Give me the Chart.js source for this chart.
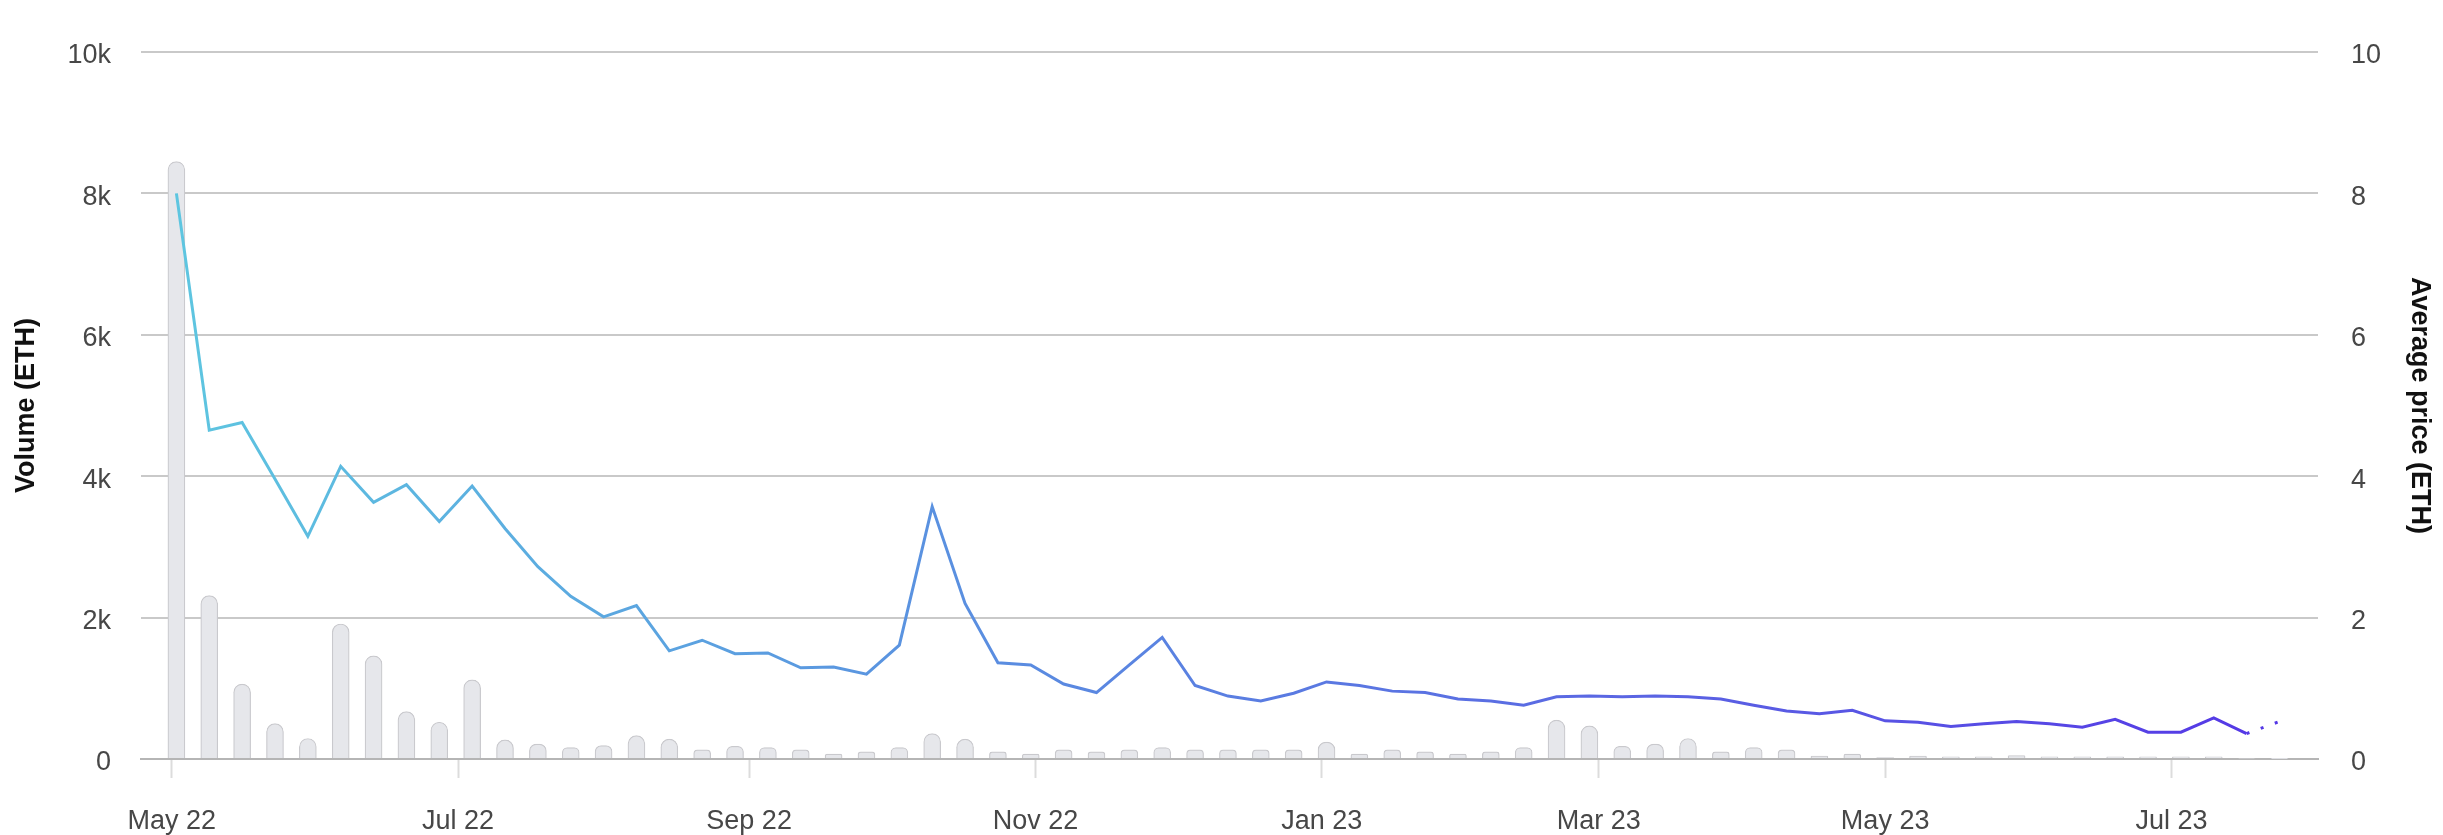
<!DOCTYPE html>
<html>
<head>
<meta charset="utf-8">
<script src="https://cdn.jsdelivr.net/npm/chart.js@4"></script>
<style>
  html, body { margin: 0; padding: 0; background: #fff; }
  #wrap { width: 2443px; height: 835px; position: relative; }
</style>
</head>
<body>
<div id="wrap"><canvas id="volumeChart"></canvas></div>
<script>
// weekly data, first week starts Mon 2 May 2022
const firstWeek = Date.UTC(2022, 4, 2);
const DAY = 24 * 3600 * 1000;

// Volume (ETH) per week
const volume = [
  8450, 2310, 1060, 500, 290, 1910, 1460, 670, 520, 1120,
  270, 210, 160, 190, 330, 280, 130, 180, 160, 130,
  70, 100, 160, 360, 280, 100, 70, 130, 100, 130,
  160, 130, 130, 130, 130, 240, 70, 130, 100, 70,
  100, 160, 550, 470, 180, 210, 290, 100, 160, 130,
  40, 70, 20, 40, 30, 30, 50, 30, 30, 30,
  30, 30, 30, 10, 5
];

// Average price (ETH) per week
const avgPrice = [
  8.0, 4.65, 4.76, 3.96, 3.15, 4.14, 3.63, 3.88, 3.36, 3.86,
  3.26, 2.72, 2.30, 2.01, 2.17, 1.53, 1.68, 1.49, 1.50, 1.29,
  1.30, 1.20, 1.61, 3.57, 2.20, 1.36, 1.33, 1.06, 0.94, 1.33,
  1.72, 1.04, 0.89, 0.82, 0.93, 1.09, 1.04, 0.96, 0.94, 0.85,
  0.82, 0.76, 0.88, 0.89, 0.88, 0.89, 0.88, 0.85, 0.76, 0.68,
  0.64, 0.69, 0.54, 0.52, 0.46, 0.50, 0.53, 0.50, 0.45, 0.56,
  0.38, 0.38, 0.58, 0.36, 0.53
];

// x tick labels and the month they sit on
const tickLabels = ['May 22', 'Jul 22', 'Sep 22', 'Nov 22', 'Jan 23', 'Mar 23', 'May 23', 'Jul 23'];
const tickMonths = [[2022, 4], [2022, 6], [2022, 8], [2022, 10], [2023, 0], [2023, 2], [2023, 4], [2023, 6]];
const tickValues = tickMonths.map(m => Date.UTC(m[0], m[1], 1));

const weeks = volume.map((v, i) => firstWeek + i * 7 * DAY);

const textColor = '#474747';
const gridColor = '#c9c9c9';

Chart.defaults.font.family = '"Liberation Sans", Arial, Helvetica, sans-serif';
Chart.defaults.font.size = 27;
Chart.defaults.color = textColor;

// cyan -> blue -> violet along the x axis
function lineGradient(ctx) {
  const chart = ctx.chart;
  const area = chart.chartArea;
  if (!area) return '#5a93e0';
  const g = chart.ctx.createLinearGradient(area.left, 0, area.right, 0);
  g.addColorStop(0, '#5ec8e0');
  g.addColorStop(0.35, '#5a93e0');
  g.addColorStop(0.7, '#5a63e3');
  g.addColorStop(1, '#5434e6');
  return g;
}

const lastIdx = avgPrice.length - 1;

new Chart(document.getElementById('volumeChart'), {
  data: {
    datasets: [{
      type: 'line',
      label: 'Average price (ETH)',
      data: weeks.map((w, i) => ({ x: w, y: avgPrice[i] })),
      yAxisID: 'yPrice',
      borderColor: lineGradient,
      borderWidth: 3,
      pointRadius: 0,
      tension: 0,
      order: 0,
      segment: {
        // current (incomplete) week is dotted
        borderDash: c => c.p1DataIndex === lastIdx ? [3, 12] : undefined
      }
    }, {
      type: 'bar',
      label: 'Volume (ETH)',
      data: weeks.map((w, i) => ({ x: w, y: volume[i] })),
      yAxisID: 'yVol',
      backgroundColor: '#e6e7eb',
      borderColor: '#c9c9cd',
      borderWidth: 1.2,
      borderSkipped: 'bottom',
      borderRadius: { topLeft: 9, topRight: 9 },
      barThickness: 17,
      order: 1
    }]
  },
  options: {
    responsive: true,
    maintainAspectRatio: false,
    animation: false,
    layout: { padding: { top: 52, left: 0, right: 0, bottom: 0 } },
    plugins: { legend: { display: false }, tooltip: { enabled: false } },
    scales: {
      x: {
        type: 'linear',
        offset: false,
        min: Date.UTC(2022, 3, 24, 11),
        max: Date.UTC(2023, 7, 1, 5),
        afterBuildTicks: scale => { scale.ticks = tickValues.map(v => ({ value: v })); },
        afterFit: scale => { scale.height = 76; },
        ticks: {
          autoSkip: false,
          maxRotation: 0,
          padding: 27,
          callback: (v, i) => tickLabels[i]
        },
        grid: {
          offset: false,
          drawOnChartArea: false,
          drawTicks: true,
          tickLength: 19,
          tickColor: '#dcdcdc',
          tickWidth: 2
        },
        border: { display: true, color: '#b5b5b5', width: 2 }
      },
      yVol: {
        position: 'left',
        min: 0,
        max: 10000,
        afterFit: scale => { scale.width = 141; },
        ticks: {
          stepSize: 2000,
          padding: 30,
          labelOffset: 4,
          callback: v => v === 0 ? '0' : (v / 1000) + 'k'
        },
        grid: { color: gridColor, lineWidth: 2, drawTicks: false },
        border: { display: false },
        title: {
          display: true,
          text: 'Volume (ETH)',
          color: '#111',
          font: { size: 27, weight: 'bold' },
          padding: { top: 10, bottom: 0 }
        }
      },
      yPrice: {
        position: 'right',
        min: 0,
        max: 10,
        afterFit: scale => { scale.width = 125; },
        ticks: { stepSize: 2, padding: 33, labelOffset: 4 },
        grid: { display: false, drawTicks: false },
        border: { display: false },
        title: {
          display: true,
          text: 'Average price (ETH)',
          color: '#111',
          font: { size: 27, weight: 'bold' },
          padding: { top: 7, bottom: 0 }
        }
      }
    }
  }
});
</script>
</body>
</html>
